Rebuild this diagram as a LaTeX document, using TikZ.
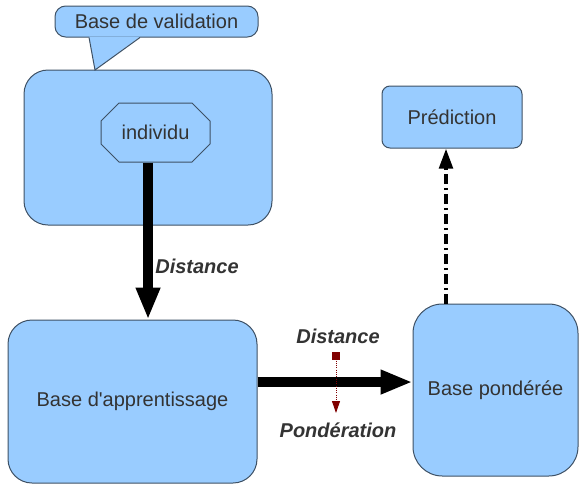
\documentclass[tikz,border=0pt]{standalone}
\usepackage{fontspec}
\setmainfont{Liberation Sans}
\usepackage{tikz}
\usetikzlibrary{arrows.meta,shapes.misc}
\definecolor{BoxFill}{HTML}{99CCFF}
\definecolor{BoxLine}{HTML}{3E5165}
\definecolor{Label}{HTML}{333333}
\definecolor{Wine}{HTML}{800000}
\tikzset{
  blockbox/.style={draw=BoxLine,fill=BoxFill,line width=0.75pt,
    inner sep=0pt,text=Label},
  fatarrow/.style={line width=7.5pt,-{Triangle[length=24pt,width=17pt]}},
  edgelabel/.style={text=Label,font=\fontsize{15}{17}\selectfont\bfseries\itshape}
}

\begin{document}
\begin{tikzpicture}[x=0.75pt,y=-0.75pt,font=\fontsize{15}{17}\selectfont,
      line cap=butt,line join=miter]
    \useasboundingbox (0,0) rectangle (582,486);

    \node[blockbox,rounded corners=18pt,minimum width=186pt,minimum height=116.25pt]
      (valid) at (148,147.5) {};
    \node[blockbox,chamfered rectangle,chamfered rectangle xsep=8pt,
          chamfered rectangle ysep=8pt,minimum width=81.75pt,minimum height=44.25pt]
      (indiv) at (155.5,132.5) {individu};
    \node[blockbox,rounded corners=8pt,minimum width=152.25pt,minimum height=23.25pt]
      (callout) at (156.5,21.5) {Base de validation};
    \coordinate (tip) at (95,70);
    \path[fill=BoxFill]
      ([xshift=-50.6pt,yshift=0.6pt]callout.south) --
      ([xshift=-12.4pt,yshift=0.6pt]callout.south) -- (tip) -- cycle;
    \draw[BoxLine,line width=0.75pt]
      ([xshift=-50.6pt]callout.south) -- (tip) -- ([xshift=-12.4pt]callout.south);

    \node[blockbox,rounded corners=18pt,minimum width=186.75pt,minimum height=122.25pt]
      (learn) at (132.5,401.5) {Base d\textquotesingle apprentissage};
    \node[blockbox,rounded corners=22pt,minimum width=123.75pt,minimum height=129pt]
      (weighted) at (495.5,390) {Base pondérée};
    \node[blockbox,rounded corners=6pt,minimum width=105pt,minimum height=46.5pt]
      (predict) at (452,117) {Prédiction};

    \draw[fatarrow] ([xshift=-5.6pt]indiv.south) --
      ([xshift=-5.6pt]indiv.south |- learn.north);
    \node[edgelabel] (dist1) at (197,266) {Distance};

    \draw[fatarrow] ([yshift=14.6pt]learn.east) -- ([yshift=14.6pt]learn.east -| weighted.west);

    \draw[line width=3pt,dash pattern=on 7pt off 3pt on 2pt off 3pt,
          -{Triangle[length=15pt,width=10pt]}]
      ([xshift=-4.5pt]predict.south |- weighted.north) -- ([xshift=-4.5pt]predict.south);

    \node[fill=Wine,minimum size=6.5pt,inner sep=0pt] (mark) at (336,356) {};
    \coordinate (marktip) at (336,413);
    \draw[Wine,line width=0.7pt,densely dotted,
          -{Triangle[length=9pt,width=6pt]}] (mark) -- (marktip);
    \node[edgelabel] (dist2) at (338,336) {Distance};
    \node[edgelabel] (weight) at (338,430) {Pondération};
\end{tikzpicture}
\end{document}
